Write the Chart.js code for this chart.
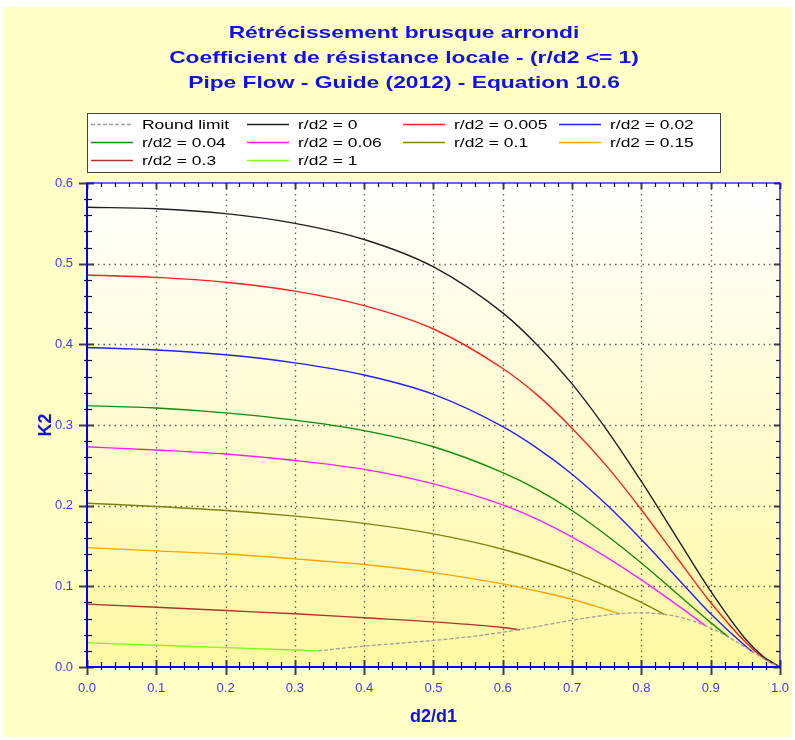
<!DOCTYPE html>
<html>
<head>
<meta charset="utf-8">
<script src="https://cdn.jsdelivr.net/npm/chart.js@4.4.1/dist/chart.umd.min.js"></script>
<style>
  body { margin: 0; background: #ffffff; }
  #wrap { width: 795px; height: 740px; }
</style>
</head>
<body>
<div id="wrap"><canvas id="chart" width="795" height="740"></canvas></div>
<script>
const titleLines = [
    'Rétrécissement brusque arrondi',
    'Coefficient de résistance locale - (r/d2 <= 1)',
    'Pipe Flow - Guide (2012) - Equation 10.6'
];

const seriesLabels = ['Round limit', 'r/d2 = 0', 'r/d2 = 0.005', 'r/d2 = 0.02', 'r/d2 = 0.04',
    'r/d2 = 0.06', 'r/d2 = 0.1', 'r/d2 = 0.15', 'r/d2 = 0.3', 'r/d2 = 1'];
const seriesColors = ['#a0a0a0', '#202020', '#ff2020', '#2020ff', '#108a10',
    '#ff20ff', '#808010', '#ffa500', '#b03030', '#80ff20'];

// d2/d1 values read along each curve, and the matching K2 values
const limitX = [0.3333, 0.3846, 0.4545, 0.5263, 0.5714, 0.625, 0.7143, 0.7692, 0.8, 0.8333, 0.8621, 0.8929, 0.9259, 0.9615, 0.9804, 0.9901, 1.0];
const limitK = [0.0199, 0.0247, 0.0297, 0.0351, 0.0396, 0.0465, 0.0600, 0.0662, 0.0672, 0.0653, 0.0603, 0.0511, 0.0369, 0.0182, 0.0084, 0.0039, 0];

const r0X = [0, 0.1, 0.2, 0.3, 0.4, 0.5, 0.6, 0.65, 0.7, 0.75, 0.8, 0.85, 0.9, 0.95, 0.975, 1.0];
const r0K = [0.570, 0.568, 0.562, 0.550, 0.530, 0.496, 0.439, 0.399, 0.351, 0.294, 0.230, 0.162, 0.094, 0.035, 0.0136, 0];

const r0005X = [0, 0.1, 0.2, 0.3, 0.4, 0.5, 0.6, 0.65, 0.7, 0.75, 0.8, 0.85, 0.9, 0.95, 0.975, 0.9901];
const r0005K = [0.486, 0.483, 0.477, 0.466, 0.448, 0.419, 0.370, 0.337, 0.296, 0.249, 0.195, 0.137, 0.080, 0.031, 0.012, 0.004];

const r002X = [0, 0.1, 0.2, 0.3, 0.4, 0.5, 0.6, 0.65, 0.7, 0.75, 0.8, 0.85, 0.9, 0.95, 0.9615];
const r002K = [0.396, 0.393, 0.387, 0.377, 0.362, 0.338, 0.298, 0.271, 0.239, 0.201, 0.158, 0.112, 0.066, 0.026, 0.018];

const r004X = [0, 0.1, 0.2, 0.3, 0.4, 0.5, 0.6, 0.65, 0.7, 0.75, 0.8, 0.85, 0.9, 0.9259];
const r004K = [0.324, 0.321, 0.315, 0.306, 0.293, 0.273, 0.241, 0.220, 0.194, 0.163, 0.129, 0.092, 0.055, 0.037];

const r006X = [0, 0.1, 0.2, 0.3, 0.4, 0.5, 0.6, 0.65, 0.7, 0.75, 0.8, 0.85, 0.8929];
const r006K = [0.273, 0.269, 0.264, 0.256, 0.245, 0.227, 0.201, 0.183, 0.161, 0.136, 0.108, 0.078, 0.051];

const r01X = [0, 0.1, 0.2, 0.3, 0.4, 0.5, 0.6, 0.65, 0.7, 0.75, 0.8, 0.8333];
const r01K = [0.203, 0.199, 0.194, 0.187, 0.178, 0.165, 0.146, 0.133, 0.118, 0.100, 0.080, 0.065];

const r015X = [0, 0.1, 0.2, 0.3, 0.4, 0.5, 0.6, 0.65, 0.7, 0.75, 0.7692];
const r015K = [0.148, 0.144, 0.140, 0.134, 0.127, 0.117, 0.103, 0.094, 0.084, 0.071, 0.066];

const r03X = [0, 0.1, 0.2, 0.3, 0.4, 0.5, 0.6, 0.625];
const r03K = [0.078, 0.074, 0.070, 0.066, 0.061, 0.056, 0.049, 0.046];

const r1X = [0, 0.1, 0.2, 0.3, 0.3333];
const r1K = [0.030, 0.027, 0.024, 0.021, 0.020];

const xSets = [limitX, r0X, r0005X, r002X, r004X, r006X, r01X, r015X, r03X, r1X];
const kSets = [limitK, r0K, r0005K, r002K, r004K, r006K, r01K, r015K, r03K, r1K];

const fontName = '"Liberation Sans", Arial, sans-serif';
const textStretch = 1.34; // the original text is drawn wide

const datasets = seriesLabels.map((label, i) => ({
    label: label,
    data: xSets[i].map((x, j) => ({x: x, y: kSets[i][j]})),
    borderColor: seriesColors[i],
    borderWidth: i === 0 ? 1.3 : 1.4,
    borderDash: i === 0 ? [4, 2] : [],
    pointRadius: 0,
    cubicInterpolationMode: 'monotone',
    fill: false,
}));

// page and plot backgrounds, dotted grid
const backgroundPlugin = {
    id: 'backgrounds',
    beforeDraw(chart) {
        const ctx = chart.ctx;
        ctx.save();
        ctx.fillStyle = '#ffffff';
        ctx.fillRect(0, 0, chart.width, chart.height);
        ctx.fillStyle = '#ffffc6';
        ctx.fillRect(3, 7, chart.width - 6, chart.height - 10);
        ctx.restore();
    },
    beforeDatasetsDraw(chart) {
        const ctx = chart.ctx;
        const a = chart.chartArea;
        const xs = chart.scales.x, ys = chart.scales.y;
        ctx.save();
        const grad = ctx.createLinearGradient(0, a.top, 0, a.bottom);
        grad.addColorStop(0, '#ffffff');
        grad.addColorStop(1, '#fff8a2');
        ctx.fillStyle = grad;
        ctx.fillRect(a.left, a.top, a.right - a.left, a.bottom - a.top);

        ctx.strokeStyle = 'rgba(70,70,70,0.85)';
        ctx.lineWidth = 1.3;
        ctx.setLineDash([1.5, 4]);
        for (let i = 1; i < 10; i++) {
            const px = Math.round(xs.getPixelForValue(i / 10)) + 0.5;
            ctx.beginPath(); ctx.moveTo(px, a.top); ctx.lineTo(px, a.bottom); ctx.stroke();
        }
        for (let i = 1; i < 6; i++) {
            const py = Math.round(ys.getPixelForValue(i / 10)) + 0.5;
            ctx.beginPath(); ctx.moveTo(a.left, py); ctx.lineTo(a.right, py); ctx.stroke();
        }
        ctx.restore();
    }
};

// blue frame with major and minor tick marks
const framePlugin = {
    id: 'frame',
    afterDatasetsDraw(chart) {
        const ctx = chart.ctx;
        const a = chart.chartArea;
        const xs = chart.scales.x, ys = chart.scales.y;
        ctx.save();
        ctx.setLineDash([]);
        const seg = (x1, y1, x2, y2) => { ctx.beginPath(); ctx.moveTo(x1, y1); ctx.lineTo(x2, y2); ctx.stroke(); };

        for (let i = 0; i <= 50; i++) {
            const major = i % 5 === 0;
            const px = Math.round(xs.getPixelForValue(i * 0.02)) + 0.5;
            ctx.strokeStyle = major ? '#404040' : '#101010';
            ctx.lineWidth = major ? 2 : 1.2;
            seg(px, a.bottom - (major ? 7 : 5), px, a.bottom + (major ? 8 : 3));
            seg(px, a.top, px, a.top + (major ? 6 : 4));
        }
        for (let i = 0; i <= 30; i++) {
            const major = i % 5 === 0;
            const py = Math.round(ys.getPixelForValue(i * 0.02)) + 0.5;
            ctx.strokeStyle = major ? '#404040' : '#101010';
            ctx.lineWidth = major ? 2 : 1.2;
            seg(a.left - (major ? 8 : 3), py, a.left + (major ? 7 : 5), py);
            seg(a.right - (major ? 6 : 4), py, a.right, py);
        }

        ctx.strokeStyle = '#0000ff';
        ctx.lineWidth = 1.2;
        ctx.strokeRect(a.left, a.top, a.right - a.left, a.bottom - a.top);
        ctx.lineWidth = 2;
        seg(a.left, a.top, a.left, a.bottom + 1);
        seg(a.left - 1, a.bottom, a.right, a.bottom);
        ctx.restore();
    }
};

// wide three-line title and the boxed legend in four columns
const titleLegendPlugin = {
    id: 'titleLegend',
    afterDraw(chart) {
        const ctx = chart.ctx;
        ctx.save();
        ctx.fillStyle = '#1010e8';
        ctx.font = 'bold 17px ' + fontName;
        ctx.textAlign = 'center';
        ctx.textBaseline = 'middle';
        titleLines.forEach((line, i) => {
            ctx.save();
            ctx.translate(404, 33 + i * 25);
            ctx.scale(textStretch, 1);
            ctx.fillText(line, 0, 0);
            ctx.restore();
        });

        const box = {x: 87, y: 113, w: 633, h: 59};
        ctx.fillStyle = '#ffffff';
        ctx.fillRect(box.x, box.y, box.w, box.h);
        ctx.strokeStyle = '#404040';
        ctx.lineWidth = 1;
        ctx.strokeRect(box.x + 0.5, box.y + 0.5, box.w, box.h);
        ctx.font = '13px ' + fontName;
        ctx.textAlign = 'left';
        chart.data.datasets.forEach((ds, i) => {
            const col = i % 4, row = Math.floor(i / 4);
            const lx = box.x + 4 + col * 156;
            const ly = box.y + 11 + row * 18;
            ctx.strokeStyle = ds.borderColor;
            ctx.lineWidth = 1.3;
            ctx.setLineDash(ds.borderDash || []);
            ctx.beginPath(); ctx.moveTo(lx, ly + 0.5); ctx.lineTo(lx + 42, ly + 0.5); ctx.stroke();
            ctx.setLineDash([]);
            ctx.fillStyle = '#000000';
            ctx.save();
            ctx.translate(lx + 51, ly + 1);
            ctx.scale(textStretch, 1);
            ctx.fillText(ds.label, 0, 0);
            ctx.restore();
        });
        ctx.restore();
    }
};

const config = {
    type: 'line',
    data: {datasets: datasets},
    options: {
        responsive: false,
        animation: false,
        layout: {padding: {left: 25, right: 9, top: 183, bottom: 0}},
        plugins: {
            legend: {display: false},
            tooltip: {enabled: false},
            title: {display: false},
        },
        scales: {
            x: {
                type: 'linear',
                min: 0,
                max: 1,
                afterFit(scale) { scale.height = 73; },
                grid: {display: false},
                border: {display: false},
                ticks: {
                    stepSize: 0.1,
                    padding: 6,
                    color: '#3a3aff',
                    font: {family: fontName, size: 13},
                    callback: v => v.toFixed(1),
                },
                title: {
                    display: true,
                    text: 'd2/d1',
                    color: '#1010e8',
                    font: {family: fontName, size: 18, weight: 'bold'},
                    padding: {top: 12, bottom: 12},
                }
            },
            y: {
                type: 'linear',
                min: 0,
                max: 0.6,
                afterFit(scale) { scale.width = 62; },
                grid: {display: false},
                border: {display: false},
                ticks: {
                    stepSize: 0.1,
                    padding: 6,
                    color: '#3a3aff',
                    font: {family: fontName, size: 13},
                    callback: v => v.toFixed(1),
                },
                title: {
                    display: true,
                    text: 'K2',
                    color: '#1010e8',
                    font: {family: fontName, size: 18, weight: 'bold'},
                    padding: {top: 10, bottom: 10},
                }
            }
        }
    },
    plugins: [backgroundPlugin, framePlugin, titleLegendPlugin]
};

const chart = new Chart(document.getElementById('chart'), config);
</script>
</body>
</html>
